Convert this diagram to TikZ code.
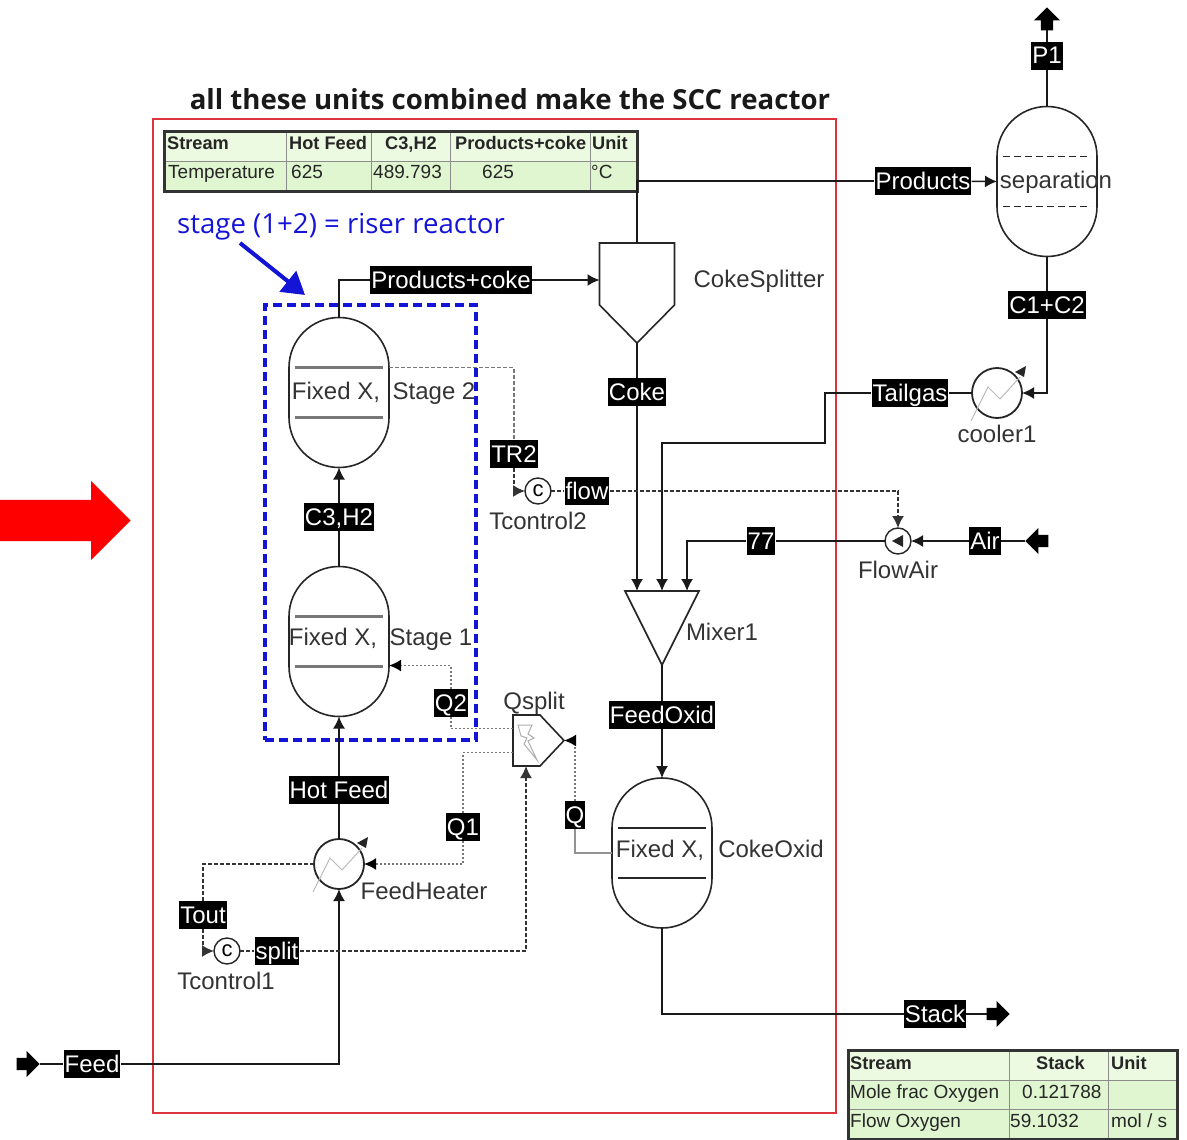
\documentclass[tikz,border=0pt]{standalone}
\usepackage{fontspec}
\usepackage{xcolor}
\setmainfont{Liberation Sans}
\newfontfamily\notefont{Open Sans}
\usetikzlibrary{shapes.arrows,arrows.meta,positioning,calc}
\definecolor{framered}{RGB}{222,50,60}
\definecolor{noteblue}{RGB}{20,20,215}
\definecolor{tablegreen}{RGB}{224,246,208}
\definecolor{headgreen}{RGB}{236,250,226}
\definecolor{heatgray}{RGB}{120,120,120}
\newcommand{\unitsize}{\fontsize{24}{26}\selectfont}
\newcommand{\cellsize}{\fontsize{19}{21}\selectfont}
\newcommand{\headsize}{\fontsize{18.2}{21}\selectfont}
\tikzset{
  stream/.style={line width=1.6pt,draw=black!90},
  feedto/.style={stream,-{Latex[length=12pt,width=12pt]}},
  signal/.style={line width=1.6pt,draw=black!80,dash pattern=on 4pt off 2pt},
  signalto/.style={signal,-{Latex[length=12pt,width=12pt]}},
  heatflow/.style={line width=1.8pt,draw=heatgray,dash pattern=on 2pt off 2pt},
  heatto/.style={heatflow,-{Latex[length=12pt,width=12pt,color=black]}},
  tag/.style={fill=black,text=white,font=\unitsize,inner xsep=1pt,inner ysep=1.5pt,text height=20.5pt,text depth=4.5pt},
  caption/.style={font=\unitsize,text=black!80,inner sep=0pt,text height=20pt,text depth=4pt},
  vessel/.style={draw=black!85,line width=1.6pt,fill=white,minimum width=100pt,minimum height=150pt,rounded corners=50pt,inner sep=0pt,outer sep=0pt},
  unitbox/.style={inner sep=0pt,outer sep=0pt},
  exchanger/.style={circle,draw=black!85,line width=1.8pt,minimum size=50pt,inner sep=0pt,outer sep=0pt},
  control/.style={circle,draw=black!85,line width=1.4pt,minimum size=26pt,inner sep=0pt,outer sep=0pt,font=\fontsize{22}{24}\selectfont},
  endarrow/.style={single arrow,fill=black,inner sep=6pt,minimum height=23pt,single arrow head extend=7pt,anchor=tip},
  cell/.style={font=\cellsize,text=black!85,anchor=base west,inner sep=0pt},
  headcell/.style={cell,font=\headsize\bfseries},
  streamtable/.style={draw=black!80,line width=1.8pt,fill=tablegreen,inner sep=0pt},
  vesseltray/.style={line width=2.6pt,draw=heatgray},
}
\begin{document}
\begin{tikzpicture}[x=1pt,y=-1pt]
\useasboundingbox (0,0) rectangle (1187,1140);

\node[single arrow,fill=red,minimum height=131pt,inner sep=20.5pt,single arrow head extend=19pt,anchor=tip] (bigarrow) at (131,520.5) {};
\node[inner sep=0pt,font=\notefont\bfseries\fontsize{27.6}{29}\selectfont,text=black!90] (title) at (510,99) {all these units combined make the SCC reactor};
\node[draw=framered,line width=2pt,minimum width=683pt,minimum height=994pt,inner sep=0pt] (scc) at (494.5,616) {};

% stream tables
\node[streamtable,minimum width=472pt,minimum height=59pt] (toptable) at (401,161.5) {};
\fill[headgreen] (166,133) rectangle (636,161);
\foreach \x in {286,371,450,590}
  \draw[black!45,line width=0.8pt] (\x,133) -- (\x,190);
\draw[black!45,line width=0.8pt] (166,161) -- (636,161);
\draw[black!80,line width=1.8pt] (toptable.north west) rectangle (toptable.south east);
\foreach \x/\txt [count=\n] in {167/Stream,289/Hot Feed,385/{C3,H2},455/Products+coke,592/Unit}
  \node[headcell] (tophead\n) at (\x,149) {\txt};
\foreach \x/\txt [count=\n] in {168/Temperature,291/625,373/489.793,482/625,591/°C}
  \node[cell] (topval\n) at (\x,178) {\txt};

\node[streamtable,minimum width=328pt,minimum height=88pt] (stacktable) at (1013,1095) {};
\fill[headgreen] (850,1052) rectangle (1176,1080);
\foreach \x in {1009,1108}
  \draw[black!45,line width=0.8pt] (\x,1052) -- (\x,1138);
\foreach \y in {1080,1109}
  \draw[black!45,line width=0.8pt] (850,\y) -- (1176,\y);
\draw[black!80,line width=1.8pt] (stacktable.north west) rectangle (stacktable.south east);
\foreach \x/\txt [count=\n] in {850/Stream,1036/Stack,1111/Unit}
  \node[headcell] (stackhead\n) at (\x,1069) {\txt};
\foreach \x/\y/\txt [count=\n] in {850/1098/Mole frac Oxygen,1022/1098/0.121788,850/1127/Flow Oxygen,1010/1127/59.1032,1111/1127/{mol / s}}
  \node[cell] (stackval\n) at (\x,\y) {\txt};

% units
\node[vessel] (stagetwo) at (339,392.5) {};
\node[vessel] (stageone) at (339,641.5) {};
\node[vessel] (cokeoxid) at (662,853) {};
\node[vessel] (separator) at (1047,181.5) {};
\foreach \v in {stagetwo,stageone}
  \draw[vesseltray] ($(\v.center)+(-44,-25)$) -- ($(\v.center)+(44,-25)$)
    ($(\v.center)+(-44,25)$) -- ($(\v.center)+(44,25)$);
\draw[black!85,line width=1.6pt] ($(cokeoxid.center)+(-44,-25)$) -- ($(cokeoxid.center)+(44,-25)$)
    ($(cokeoxid.center)+(-44,25)$) -- ($(cokeoxid.center)+(44,25)$);
\draw[black!85,line width=1.5pt,dash pattern=on 7pt off 4pt] ($(separator.center)+(-44,-25)$) -- ($(separator.center)+(44,-25)$)
    ($(separator.center)+(-44,25)$) -- ($(separator.center)+(44,25)$);

\node[unitbox,minimum width=75pt,minimum height=100pt] (splitter) at (637,293) {};
\draw[black!85,line width=1.6pt] (splitter.north west) -- (splitter.north east) -- ($(splitter.east)+(0,12)$) -- (splitter.south) -- ($(splitter.west)+(0,12)$) -- cycle;
\node[unitbox,minimum width=74pt,minimum height=74pt] (mixer) at (662,628) {};
\draw[black!85,line width=1.6pt] (mixer.north west) -- (mixer.north east) -- (mixer.south) -- cycle;
\node[unitbox,minimum width=51pt,minimum height=51pt] (qsplit) at (538.5,740.5) {};
\draw[black!85,line width=1.6pt,fill=white] (qsplit.north west) -- ($(qsplit.north west)+(27,0)$) -- (qsplit.east) -- ($(qsplit.south west)+(27,0)$) -- (qsplit.south west) -- cycle;
\draw[heatgray!60,line width=1pt] (518,725) -- (532,725) -- (528,734) -- (534,738) -- (528,741) -- (537,760) -- (524,744) -- (527,738) -- (521,736) -- cycle;

\node[exchanger] (feedheater) at (339,864) {};
\node[exchanger] (cooler) at (997,393) {};
\foreach \h in {feedheater,cooler}{
  \begin{scope}[shift={(\h.center)}]
    \draw[heatgray!50,line width=1pt] (-26,28) -- (-9,-6) -- (3,6) -- (23,-16);
    \fill[black!85] (18,-21) -- (29,-27) -- (27,-16) -- cycle;
  \end{scope}
}
\node[control] (tcontrolone) at (227,951) {c};
\node[control] (tcontroltwo) at (538,491) {c};
\node[control] (flowair) at (898,541) {};
\fill[black!85] (892,541) -- (903,535) -- (903,547) -- cycle;

% stream labels
\node[tag] (feed) at (92,1064) {Feed};
\node[tag] (hotfeed) at (339,790) {Hot Feed};
\node[tag] (cthree) at (339,517) {C3,H2};
\node[tag] (prodcoke) at (451,280) {Products+coke};
\node[tag] (products) at (923,181) {Products};
\node[tag] (ptop) at (1047,56) {P1};
\node[tag] (cone) at (1047,305) {C1+C2};
\node[tag] (tailgas) at (910,393) {Tailgas};
\node[tag] (coke) at (637,392) {Coke};
\node[tag] (tr) at (514,454) {TR2};
\node[tag] (flow) at (587,491) {flow};
\node[tag] (air) at (985,541) {Air};
\node[tag] (seven) at (761,541) {77};
\node[tag] (feedoxid) at (662,715) {FeedOxid};
\node[tag] (qtwo) at (451,703) {Q2};
\node[tag] (qone) at (463,827) {Q1};
\node[tag] (qheat) at (575,815) {Q};
\node[tag] (tout) at (203,915) {Tout};
\node[tag] (split) at (277,951) {split};
\node[tag] (stack) at (935,1014) {Stack};

% stream ends
\node[endarrow] (feedin) at (40,1064) {};
\node[endarrow,shape border rotate=180] (airin) at (1025,541) {};
\node[endarrow] (stackout) at (1010,1014) {};
\node[endarrow,shape border rotate=90] (ptopout) at (1047,7) {};

% unit captions
\node[caption] (fixedtwo) at (336,391) {Fixed X,};
\node[caption] (stagetwolabel) at (434,391) {Stage 2};
\node[caption] (fixedone) at (333,637) {Fixed X,};
\node[caption] (stageonelabel) at (431,637) {Stage 1};
\node[caption] (fixedoxid) at (660,849) {Fixed X,};
\node[caption] (cokeoxidlabel) at (771,849) {CokeOxid};
\node[caption] (seplabel) at (1056,180) {separation};
\node[caption] (splitterlabel) at (759,279) {CokeSplitter};
\node[caption] (mixerlabel) at (722,632) {Mixer1};
\node[caption] (qsplitlabel) at (534,701) {Qsplit};
\node[caption] (heaterlabel) at (424,891) {FeedHeater};
\node[caption] (coolerlabel) at (997,434) {cooler1};
\node[caption] (flowairlabel) at (898,570) {FlowAir};
\node[caption] (tconelabel) at (226,981) {Tcontrol1};
\node[caption] (tctwolabel) at (538,521) {Tcontrol2};

% note on the riser
\node[inner sep=0pt,text=noteblue,font=\notefont\fontsize{27.6}{29}\selectfont] (riser) at (341,227) {stage (1+2) = riser reactor};
\node[draw=noteblue,line width=3.4pt,dash pattern=on 9pt off 5pt,minimum width=211pt,minimum height=435pt,inner sep=0pt] (riserbox) at (370.5,522.5) {};
\coordinate (risertail) at (240,243);
\coordinate (risertip) at (305,295);
\draw[noteblue,line width=4pt,-{Triangle[length=22pt,width=26pt]}] (risertail) -- (risertip);

% process streams
\coordinate (qsplitin) at (526,766);
\draw[stream] (feedin.tip) -- (feed);
\draw[feedto] (feed) -| (feedheater.south);
\draw[stream] (feedheater) -- (hotfeed);
\draw[feedto] (hotfeed) -- (stageone.south);
\draw[stream] (stageone) -- (cthree);
\draw[feedto] (cthree) -- (stagetwo.south);
\draw[stream] (stagetwo.north) |- (prodcoke);
\draw[feedto] (prodcoke) -- (prodcoke -| splitter.west);
\draw[stream] (splitter.north) |- (products);
\draw[feedto] (products) -- (separator.west);
\draw[stream] (separator.north) -- (ptop);
\draw[stream] (ptop) -- (ptopout.tail);
\draw[stream] (separator.south) -- (cone);
\draw[feedto] (cone) |- (cooler.east);
\draw[stream] (cooler.west) -- (tailgas);
\draw[feedto] (tailgas) -- ++(-85,0) -- ++(0,50) -| (mixer.north);
\draw[stream] (splitter.south) -- (coke);
\draw[feedto] (coke) -- (coke |- mixer.north);
\draw[stream] (airin.tip) -- (air);
\draw[feedto] (air) -- (flowair.east);
\draw[stream] (flowair.west) -- (seven);
\draw[feedto] (seven) -| ($(mixer.north)+(25,0)$);
\draw[stream] (mixer.south) -- (feedoxid);
\draw[feedto] (feedoxid) -- (cokeoxid.north);
\draw[stream] (cokeoxid.south) |- (stack);
\draw[stream] (stack) -- (stackout.tail);

% control and heat signals
\draw[signal,draw=heatgray] ($(stagetwo.center)+(50,-25)$) -| (tr);
\draw[signalto] (tr) |- (tcontroltwo.west);
\draw[signal] (tcontroltwo) -- (flow);
\draw[signalto] (flow) -| (flowair.north);
\draw[signal] (feedheater.west) -| (tout);
\draw[signalto] (tout) |- (tcontrolone.west);
\draw[signal] (tcontrolone) -- (split);
\draw[signalto] (split) -| (qsplitin);
\draw[heatflow] ($(qsplit.west)+(0,-12)$) -| (qtwo);
\draw[heatto] (qtwo) |- ($(stageone.center)+(50,24)$);
\draw[heatflow] ($(qsplit.west)+(0,12)$) -| (qone);
\draw[heatto] (qone) |- (feedheater.east);
\draw[heatto] (qheat) |- (qsplit.east);
\draw[heatgray!80,line width=1.6pt] (qheat) |- (cokeoxid.west);
\end{tikzpicture}
\end{document}
